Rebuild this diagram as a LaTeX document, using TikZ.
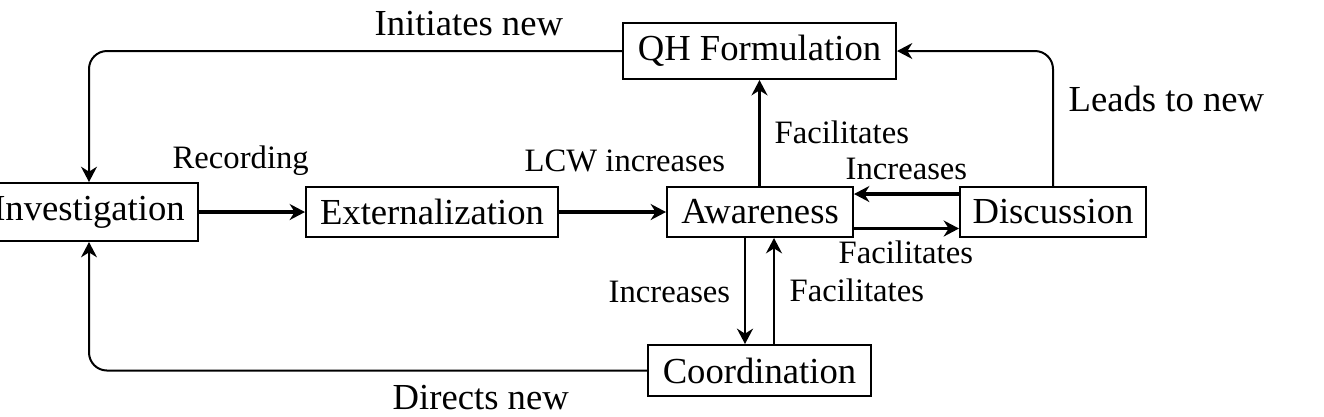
\documentclass[tikz,border=0pt]{standalone}
\usepackage{fontspec}
\setmainfont{Liberation Serif}
\usetikzlibrary{arrows.meta,calc}
\tikzset{
  box/.style 2 args={draw, line width=0.6pt, inner sep=0pt, anchor=center,
    minimum width=#1*0.3pt, minimum height=#2*0.3pt,
    font=\fontsize{11}{13}\selectfont},
  biglab/.style={inner sep=0pt, anchor=base west, font=\fontsize{11}{13}\selectfont},
  smalllab/.style={inner sep=0pt, anchor=base west, font=\fontsize{9.8}{12}\selectfont},
  tip/.style={-{Stealth[length=4.6pt,width=4.8pt,inset=1.5pt]}},
  thickarr/.style={tip, line width=1pt},
  medarr/.style={tip, line width=0.75pt},
  looparr/.style={tip, line width=0.6pt, rounded corners=5.4pt},
}
\begin{document}
\begin{tikzpicture}[x=0.3pt,y=-0.3pt]
\useasboundingbox (0,0) rectangle (1324,416);
% nodes
\node[box={218}{58}] (inv) at (89,212) {Investigation};
\node[box={252}{50}] (ext) at (432,212) {Externalization};
\node[box={186}{50}] (aw) at (760,212) {Awareness};
\node[box={186}{50}] (dis) at (1053,212) {Discussion};
\node[box={273}{56}] (qh) at (759.5,51) {QH Formulation};
\node[box={223}{51}] (co) at (759.5,370.5) {Coordination};
% helper coordinates
\coordinate (awdn) at ($(aw.south)+(-15,0)$);
\coordinate (coup) at ($(co.north)+(14.5,0)$);
\coordinate (disup) at ($(dis.west)+(0,-18)$);
\coordinate (awrt) at ($(aw.east)+(0,16.5)$);
% main arrows
\draw[thickarr] (inv.east) -- (ext.west);
\draw[thickarr] (ext.west -| ext.east) -- (aw.west);
\draw[thickarr] (disup) -- (disup -| aw.east);
\draw[thickarr] (awrt) -- (awrt -| dis.west);
\draw[medarr] (qh.south |- aw.north) -- (qh.south);
\draw[medarr] (awdn) -- (awdn |- co.north);
\draw[medarr] (coup) -- (coup |- aw.south);
% loops
\draw[looparr] (qh.west) -- (qh.west -| inv.north) -- (inv.north);
\draw[looparr] (co.west) -- (co.west -| inv.south) -- (inv.south);
\draw[looparr] (dis.north) -- (dis.north |- qh.east) -- (qh.east);
% labels
\node[biglab] (l1) at (374,35) {Initiates new};
\node[smalllab] (l2) at (172,168) {Recording};
\node[smalllab] (l3) at (524,171) {LCW increases};
\node[smalllab] (l4) at (774,143) {Facilitates};
\node[smalllab] (l5) at (845,179) {Increases};
\node[smalllab] (l6) at (838,263) {Facilitates};
\node[smalllab] (l7) at (608,302) {Increases};
\node[smalllab] (l8) at (789,301) {Facilitates};
\node[biglab] (l9) at (1068,111) {Leads to new};
\node[biglab] (l10) at (392,409) {Directs new};
\end{tikzpicture}
\end{document}
